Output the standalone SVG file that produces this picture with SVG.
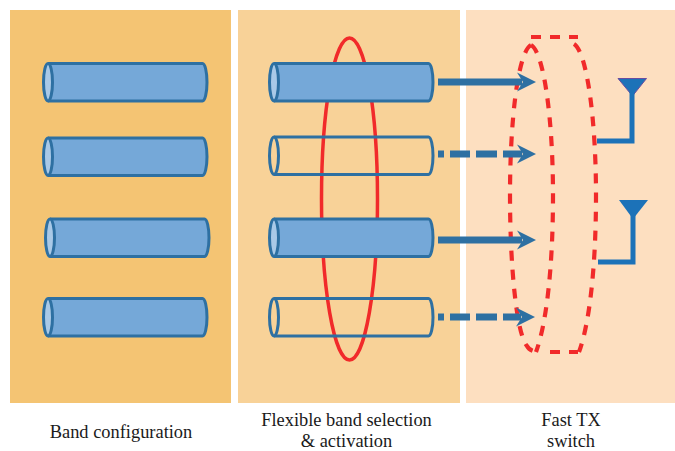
<svg xmlns="http://www.w3.org/2000/svg" width="675" height="451" viewBox="0 0 675 451">
<style>
.label{font-family:"Liberation Serif","Times New Roman",serif;font-size:18.4px;fill:#1a1a1a;text-anchor:middle}
.body{stroke:#2e70a2;stroke-width:3;stroke-linejoin:round}
.solid{fill:#75a8d8}
.hollow{fill:none}
.cap{stroke:#2e70a2;stroke-width:3}
.capfill{fill:#a9c9e7}
.nofill{fill:none}
.arrow{stroke:#2e70a2;stroke-width:7;fill:none}
.red{fill:none;stroke:#f12a2a;stroke-width:3.5}
.reddash{fill:none;stroke:#f12a2a;stroke-width:4.200;stroke-dasharray:10 9}
.ant{fill:none;stroke:#1c72b8;stroke-width:5}
</style>
<defs>
<g id="cyl-solid">
<path class="body solid" d="M5,0H159.500A4.500,18.700 0 0 1 159.500,37.400H5"/>
<ellipse class="cap capfill" cx="5" cy="18.700" rx="4.500" ry="18.700"/>
</g>
<g id="cyl-hollow">
<path class="body hollow" d="M5,0H159.500A4.500,18.700 0 0 1 159.500,37.400H5"/>
<ellipse class="cap nofill" cx="5" cy="18.700" rx="4.500" ry="18.700"/>
</g>
<polygon id="head" fill="#2e70a2" points="0,-9.500 19,0 0,9.500 6,0"/>
</defs>

<g id="panel-band-config"><rect x="10" y="10" width="221" height="393" fill="#f4c473"/></g>
<g id="panel-flexible"><rect x="238" y="10" width="222" height="393" fill="#f8d298"/></g>
<g id="panel-switch"><rect x="466" y="10" width="209" height="393" fill="#fddfc0"/></g>

<g id="selection-ellipse"><ellipse class="red" cx="349.500" cy="199" rx="28" ry="161"/></g>

<g id="switch-outline">
<path class="reddash" d="M531,37H578"/>
<path class="reddash" d="M531,45C518,52 510,120 510,195C510,270 517,335 527,346Q530,352 541,352"/>
<path class="reddash" d="M531,45C544,52 553,120 553,195C553,270 546,325 536,352"/>
<path class="reddash" d="M574,44C587,52 596,120 596,195C596,270 589,325 579,352"/>
<path class="reddash" d="M550,352H578"/>
</g>

<g id="band-1-1"><use href="#cyl-solid" x="43" y="63.500"/></g>
<g id="band-1-2"><use href="#cyl-solid" x="43" y="138"/></g>
<g id="band-1-3"><use href="#cyl-solid" x="45" y="219"/></g>
<g id="band-1-4"><use href="#cyl-solid" x="43" y="298.500"/></g>
<g id="band-2-1"><use href="#cyl-solid" x="269" y="63.500"/></g>
<g id="band-2-2"><use href="#cyl-hollow" x="269" y="137"/></g>
<g id="band-2-3"><use href="#cyl-solid" x="269" y="219"/></g>
<g id="band-2-4"><use href="#cyl-hollow" x="269" y="298.500"/></g>

<g id="connectors">
<path class="arrow" d="M438,82H522"/><use href="#head" x="517" y="82"/>
<path class="arrow" d="M438,154H444M450,154H470M476,154H497M503,154H522"/><use href="#head" x="517" y="154"/>
<path class="arrow" d="M438,240H522"/><use href="#head" x="517" y="240"/>
<path class="arrow" d="M438,317H444M450,317H470M476,317H497M503,317H521"/><use href="#head" x="516" y="317"/>
</g>

<g id="antenna-1">
<polygon points="618,78.500 646.500,78.500 632.500,96" fill="#1c72b8" stroke="#6a4da0" stroke-width="1"/>
<path class="ant" d="M632,92V141H597"/>
</g>
<g id="antenna-2">
<polygon points="619,200 648,200 633,219" fill="#1c72b8"/>
<path class="ant" d="M633,212V262H598"/>
</g>

<g id="labels">
<text class="label" x="121" y="438">Band configuration</text>
<text class="label" x="346.500" y="426">Flexible band selection</text>
<text class="label" x="346.500" y="446.500">&amp; activation</text>
<text class="label" x="571" y="426">Fast TX</text>
<text class="label" x="571" y="446.500">switch</text>
</g>
</svg>
